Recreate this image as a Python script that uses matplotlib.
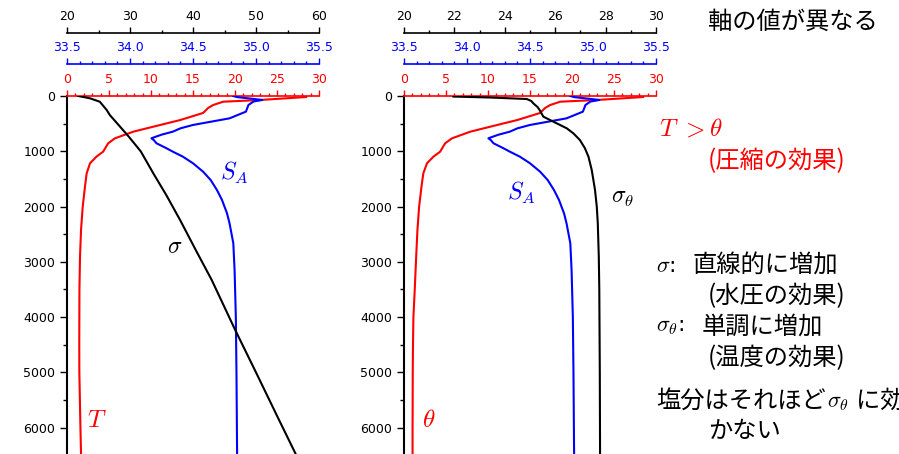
import numpy as np
import matplotlib
matplotlib.use("Agg")
import matplotlib.pyplot as plt
from matplotlib.ticker import MultipleLocator, FormatStrFormatter

plt.rcParams['font.family'] = ['DejaVu Sans']
plt.rcParams['mathtext.fontset'] = 'cm'
JP = ['Noto Sans CJK JP', 'DejaVu Sans']

# ---- data (depth in m) ----
t_depth = [10, 18, 72, 103, 163, 217, 307, 434, 524, 645, 766, 856, 1007, 1098,
           1217, 1399, 1640, 2002, 2424, 2906, 3500, 4000, 4500, 5000, 5620, 6000, 6476]
t_insitu = [28.4, 28.5, 23.0, 18.6, 17.4, 16.8, 16.2, 13.5, 11.1, 7.9, 5.7, 4.9, 4.3, 3.5,
            2.74, 2.34, 2.14, 1.87, 1.67, 1.55, 1.48, 1.47, 1.46, 1.47, 1.55, 1.6, 1.67]
theta = [28.4, 28.5, 23.0, 18.6, 17.4, 16.8, 16.2, 13.5, 11.1, 7.9, 5.7, 4.9, 4.3, 3.5,
         2.74, 2.3, 2.08, 1.8, 1.6, 1.45, 1.28, 1.12, 1.07, 1.04, 1.03, 1.02, 1.02]

s_depth = [0, 20, 50, 72, 100, 163, 283, 404, 524, 585, 645, 700, 740, 765, 800,
           855, 946, 1007, 1098, 1217, 1369, 1519, 1700, 1880, 2122, 2303, 2665,
           3148, 4000, 5000, 6476]
s_a = [34.82, 34.85, 34.97, 35.05, 34.98, 34.94, 34.92, 34.79, 34.50, 34.40, 34.34,
       34.25, 34.20, 34.17, 34.19, 34.21, 34.29, 34.34, 34.42, 34.50, 34.58, 34.64,
       34.69, 34.73, 34.77, 34.79, 34.82, 34.83, 34.84, 34.845, 34.85]

sig_depth = [0, 42, 103, 253, 345, 500, 735, 1000, 1399, 1800, 2243, 2800, 3328,
             4233, 5000, 5800, 6476]
sigma = [21.8, 23.65, 25.2, 26.3, 26.8, 28.0, 29.8, 31.7, 33.7, 35.8, 37.95, 40.5,
         42.97, 46.7, 50.0, 53.4, 56.3]

sth_depth = [10, 27, 54, 90, 132, 200, 253, 374, 494, 585, 675, 796, 946, 1098,
             1339, 1700, 2002, 2303, 2906, 3508, 5000, 6476]
sigma_theta = [21.96, 23.4, 24.87, 25.05, 25.13, 25.3, 25.38, 25.53, 26.06, 26.46,
               26.72, 26.98, 27.18, 27.32, 27.45, 27.58, 27.65, 27.69, 27.73, 27.75,
               27.77, 27.78]

DMAX = 6476
W, H = 899, 454

fig = plt.figure(figsize=(W / 100, H / 100), dpi=100)


def panel(left, black_lim, black_major, black_minor):
    ax = fig.add_axes([left / W, 0, 252 / W, 358 / H])
    ax.set_ylim(DMAX, 0)
    for s in ['right', 'bottom', 'top']:
        ax.spines[s].set_visible(False)
    ax.spines['left'].set_linewidth(1.5)
    ax.set_xticks([])
    ax.yaxis.set_major_locator(MultipleLocator(1000))
    ax.yaxis.set_minor_locator(MultipleLocator(500))
    ax.tick_params(axis='y', which='major', length=5, width=1, labelsize=9)
    ax.tick_params(axis='y', which='minor', length=3, width=1)

    specs = [('T', (0, 30), 5, 1, 'red', 0, '%d'),
             ('S', (33.5, 35.5), 0.5, 0.1, 'blue', 23, '%.1f'),
             ('D', black_lim, black_major, black_minor, 'black', 45.4, '%d')]
    out = {}
    for name, lim, major, minor, color, off, fmt in specs:
        tw = ax.twiny()
        tw.set_xlim(lim)
        for s in ['left', 'right', 'bottom']:
            tw.spines[s].set_visible(False)
        tw.spines['top'].set_position(('outward', off))
        tw.spines['top'].set_color(color)
        tw.spines['top'].set_linewidth(1.2)
        tw.xaxis.set_major_locator(MultipleLocator(major))
        tw.xaxis.set_minor_locator(MultipleLocator(minor))
        tw.xaxis.set_major_formatter(FormatStrFormatter(fmt))
        tw.tick_params(axis='x', which='major', colors=color, length=4.5, width=1,
                       labelsize=9, pad=2.5)
        tw.tick_params(axis='x', which='minor', colors=color, length=2.5, width=1)
        out[name] = tw
    return ax, out


# left panel: in-situ
axL, twL = panel(67, (20, 60), 10, 5)
twL['T'].plot(t_insitu, t_depth, color='red', lw=1.5)
twL['S'].plot(s_a, s_depth, color='blue', lw=1.5)
twL['D'].plot(sigma, sig_depth, color='black', lw=1.5)
twL['D'].text(37.1, 2713, r'$\sigma$', fontsize=17, ha='center', va='center')
twL['S'].text(34.83, 1400, r'$S_A$', fontsize=17, color='blue', ha='center', va='center')
twL['T'].text(3.57, 5852, r'$T$', fontsize=18, color='red', ha='center', va='center')

# right panel: potential
axR, twR = panel(404, (20, 30), 2, 1)
twR['T'].plot(theta, t_depth, color='red', lw=1.5)
twR['S'].plot(s_a, s_depth, color='blue', lw=1.5)
twR['D'].plot(sigma_theta, sth_depth, color='black', lw=1.5)
twR['S'].text(34.43, 1755, r'$S_A$', fontsize=17, color='blue', ha='center', va='center')
twR['D'].text(28.67, 1818, r'$\sigma_\theta$', fontsize=17, ha='center', va='center')
twR['T'].text(2.98, 5852, r'$\theta$', fontsize=18, color='red', ha='center', va='center')


def ftext(x, y, s, **kw):
    kw.setdefault('va', 'center')
    kw.setdefault('ha', 'left')
    fig.text(x / W, 1 - y / H, s, **kw)


ftext(708, 22, '軸の値が異なる', fontsize=17.5, family=JP)
ftext(659, 129, r'$T\ > \theta$', fontsize=18, color='red')
ftext(708, 161, '(圧縮の効果)', fontsize=17.5, color='red', family=JP)
ftext(656, 266, r'$\sigma$:', fontsize=16)
ftext(692, 266, '直線的に増加', fontsize=17.5, family=JP)
ftext(708, 296, '(水圧の効果)', fontsize=17.5, family=JP)
ftext(656, 327, r'$\sigma_\theta$:', fontsize=16)
ftext(702, 327, '単調に増加', fontsize=17.5, family=JP)
ftext(708, 358, '(温度の効果)', fontsize=17.5, family=JP)
ftext(656, 401, '塩分はそれほど', fontsize=17.5, family=JP)
ftext(827, 403, r'$\sigma_\theta$', fontsize=16)
ftext(856, 401, 'に効', fontsize=17.5, family=JP)
ftext(708, 431, 'かない', fontsize=17.5, family=JP)

fig.savefig('out.png', dpi=100)
